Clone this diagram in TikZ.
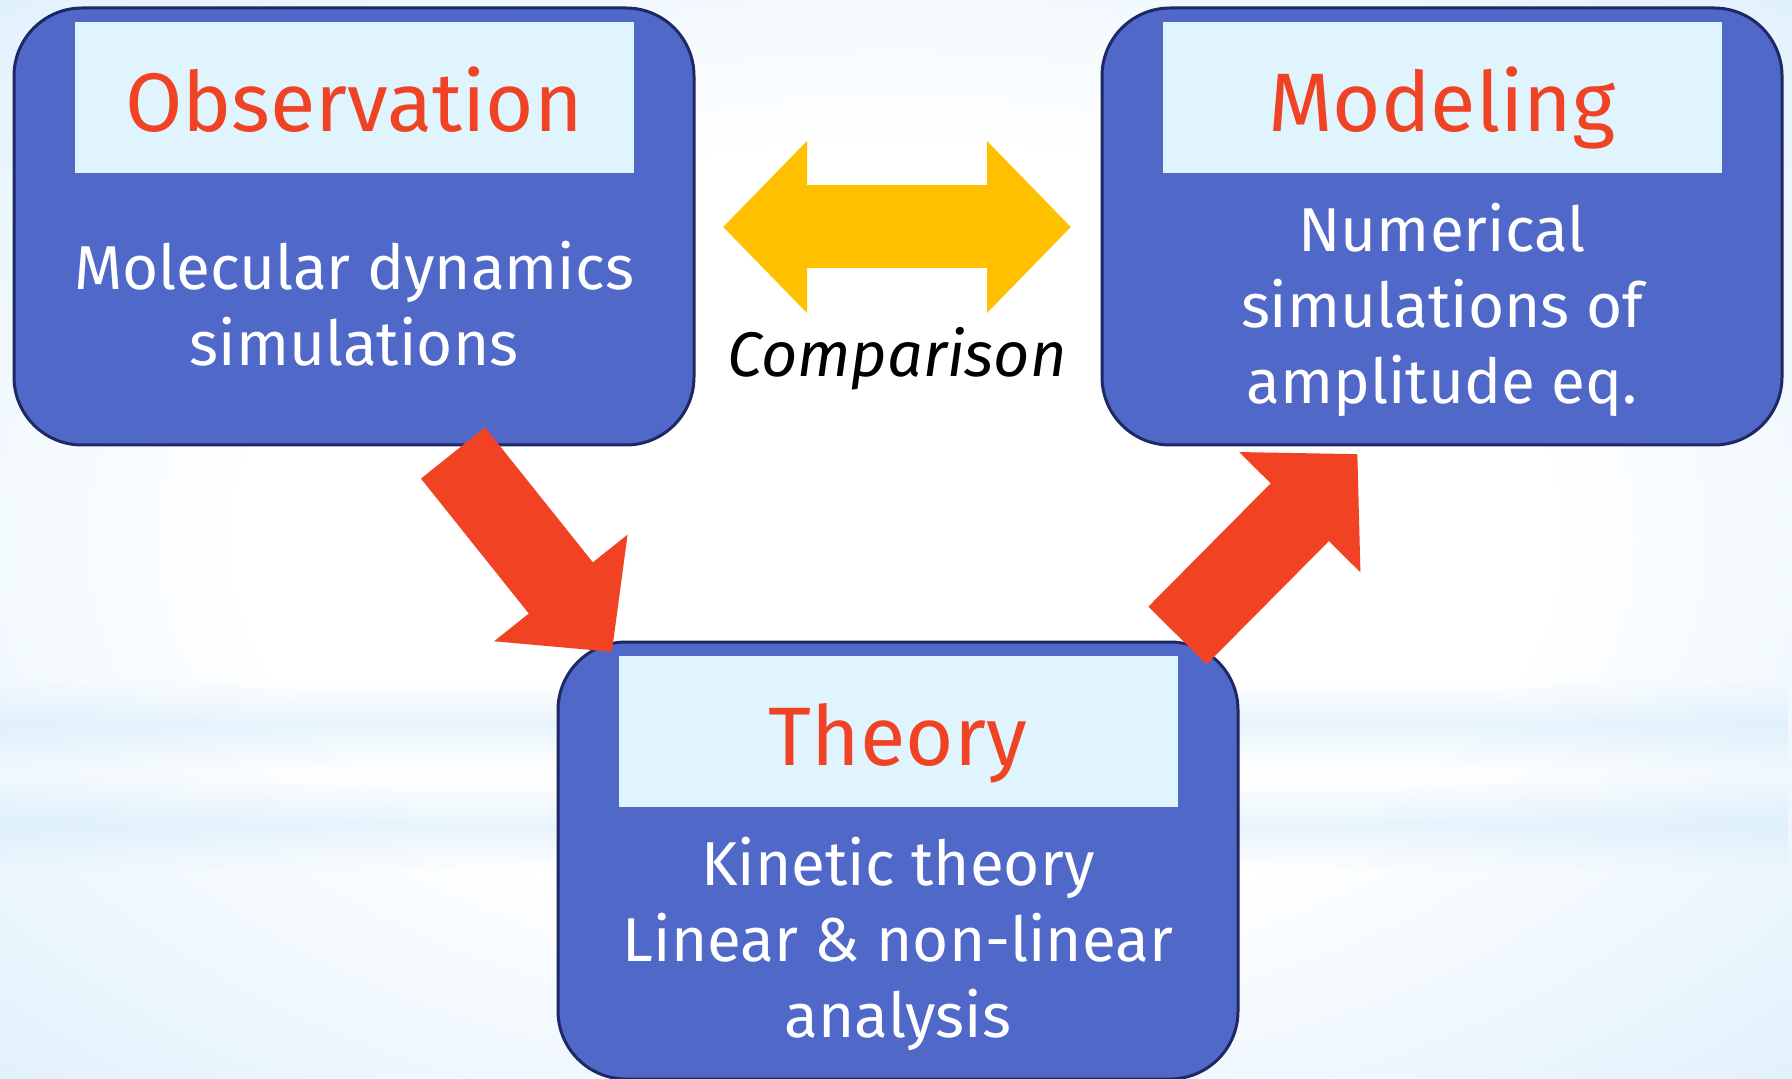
\documentclass[tikz,border=0pt]{standalone}
\usepackage{fontspec}
\setmainfont{Fira Sans}
\usetikzlibrary{positioning,calc,arrows.meta,fadings}

\definecolor{boxblue}{RGB}{80,104,200}
\definecolor{boxedge}{RGB}{30,40,100}
\definecolor{titlefill}{RGB}{223,244,252}
\definecolor{titlered}{RGB}{240,66,36}
\definecolor{arrowred}{RGB}{241,67,36}
\definecolor{arrowgold}{RGB}{255,192,0}
\definecolor{bgblue}{RGB}{200,230,250}
\definecolor{bgdeep}{RGB}{170,214,247}

\pgfdeclareradialshading{bgglow}{\pgfpoint{0bp}{0bp}}{color(0bp)=(white); color(18bp)=(white); color(50bp)=(bgblue); color(71bp)=(bgdeep)}
\tikzfading[name=bandfade, top color=transparent!100, bottom color=transparent!100, middle color=transparent!60]

\tikzset{
  stage/.style={rectangle, rounded corners=34pt, draw=boxedge, line width=1.5pt, fill=boxblue,
    minimum width=340pt, minimum height=218.5pt},
  stagetitle/.style={rectangle, fill=titlefill, minimum width=279.5pt, minimum height=75.5pt,
    text height=36pt, text depth=2pt, text=titlered, font=\fontsize{41.5}{48}\selectfont},
  stagetext/.style={text=white, align=center, font=\fontsize{31}{38}\selectfont},
  bigarrow/.style={arrowred, line width=41pt, -{Triangle[length=41pt, width=83pt]}},
  swaparrow/.style={arrowgold, line width=41.5pt,
    {Triangle[length=42pt, width=83.5pt]}-{Triangle[length=42pt, width=83.5pt]}},
}

\begin{document}
\begin{tikzpicture}[x=0.5pt, y=-0.5pt]
% background
\useasboundingbox (0,0) rectangle (1792,1079);
\shade[shading=bgglow] (0,0) rectangle (1792,1079);
\fill[bgblue, path fading=bandfade] (0,680) rectangle (1792,770);
\fill[bgblue, path fading=bandfade] (0,780) rectangle (1792,870);

% the three stages
\node[stage] (obs) at (354,226.5) {};
\node[stage] (mod) at (1442,226.5) {};
\node[stage] (theo) at (898,860.5) {};

\node[stagetitle, below=7.5pt of obs.north] (obsT) {Observation};
\node[stagetitle, below=7.5pt of mod.north] (modT) {Modeling};
\node[stagetitle, below=7.5pt of theo.north] (theoT) {Theory};

\node[stagetext, yshift=3pt] (obsB) at ($(obsT.south)!0.5!(obs.south)$) {Molecular dynamics\\simulations};
\node[stagetext] (modB) at ($(modT.south)!0.5!(mod.south)$) {Numerical\\simulations of\\amplitude eq.};
\node[stagetext] (theoB) at ($(theoT.south)!0.5!(theo.south)$) {Kinetic theory\\Linear \& non-linear\\analysis};

% comparison
\coordinate (cmpL) at (723,227);
\coordinate (cmpR) at (1071,227);
\draw[swaparrow] (cmpL) -- (cmpR);
\node[font=\itshape\fontsize{31.5}{36}\selectfont] (cmpT) at (897,359) {Comparison};

% flow arrows
\coordinate (obsOut) at (453,453);
\coordinate (theoIn) at (612,652);
\draw[bigarrow] (obsOut) -- (theoIn);
\coordinate (theoOut) at (1177.5,635.5);
\coordinate (modIn) at (1357.5,454);
\draw[bigarrow] (theoOut) -- (modIn);
\end{tikzpicture}
\end{document}
